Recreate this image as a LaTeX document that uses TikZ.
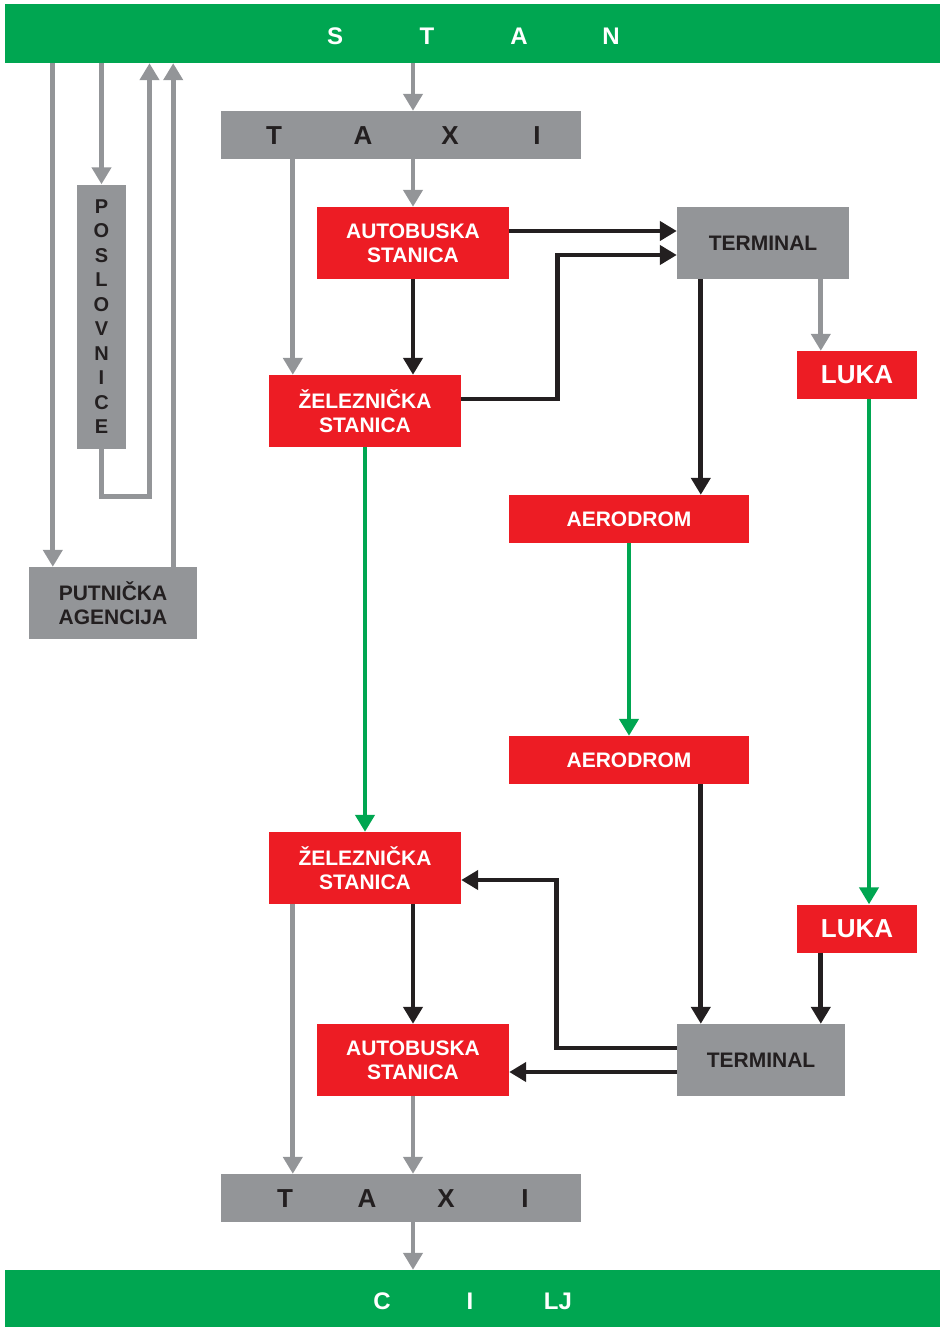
\documentclass[tikz,border=0pt]{standalone}
\usepackage{fontspec}
\setmainfont{Liberation Sans}
\usetikzlibrary{arrows.meta}
\definecolor{bargreen}{HTML}{00A651}
\definecolor{boxred}{HTML}{ED1C24}
\definecolor{boxgray}{HTML}{939598}
\definecolor{ink}{HTML}{231F20}
\tikzset{
  box/.style={rectangle, inner sep=0pt, align=center, font=\bfseries\fontsize{21}{24}\selectfont},
  redbox/.style={box, fill=boxred, text=white},
  graybox/.style={box, fill=boxgray, text=ink},
  bar/.style={rectangle, inner sep=0pt, fill=bargreen, minimum width=935pt, minimum height=59pt},
  bartext/.style={inner sep=0pt, text=white, font=\bfseries\fontsize{24}{24}\selectfont},
  conn/.style={line width=4.8pt, -{Triangle[length=17pt,width=19pt]}},
  garrow/.style={conn, draw=boxgray},
  barrow/.style={conn, draw=ink},
  grarrow/.style={conn, draw=bargreen}
}
\newcommand{\spaced}[2]{\makebox[#1pt]{#2}}
\begin{document}
\begin{tikzpicture}[x=1pt,y=-1pt]
\useasboundingbox (0,0) rectangle (940,1327);

% start and goal bars
\node[bar] (stan) at (472.5,33.5) {};
\node[bartext] (stanlabel) at (473,36) {\spaced{92}{S}\spaced{92}{T}\spaced{92}{A}\spaced{92}{N}};
\node[bar, minimum height=57pt] (cilj) at (472.5,1298.5) {};
\node[bartext] (ciljlabel) at (470,1301) {\spaced{88}{C}\spaced{88}{I}\spaced{88}{LJ}};

% taxi rows
\node[graybox, minimum width=360pt, minimum height=48pt] (taxiA) at (401,135) {};
\node[text=ink, inner sep=0pt, font=\bfseries\fontsize{26}{26}\selectfont] (taxiAlabel) at (405,136)
  {\spaced{90}{T}\spaced{88}{A}\spaced{86}{X}\spaced{88}{I}};
\node[graybox, minimum width=360pt, minimum height=48pt] (taxiB) at (401,1198) {};
\node[text=ink, inner sep=0pt, font=\bfseries\fontsize{26}{26}\selectfont] (taxiBlabel) at (404,1199)
  {\spaced{84}{T}\spaced{80}{A}\spaced{78}{X}\spaced{80}{I}};

% left column
\node[graybox, minimum width=49pt, minimum height=264pt, font=\bfseries\fontsize{20}{24.5}\selectfont] (posl) at (101.5,316.5)
  {P\\O\\S\\L\\O\\V\\N\\I\\C\\E};
\node[graybox, minimum width=168pt, minimum height=72pt] (put) at (113,603) {PUTNIČKA\\AGENCIJA};

% departure side
\node[redbox, minimum width=192pt, minimum height=72pt] (autA) at (413,243) {AUTOBUSKA\\STANICA};
\node[redbox, minimum width=192pt, minimum height=72pt] (zelA) at (365,411) {ŽELEZNIČKA\\STANICA};
\node[graybox, minimum width=172pt, minimum height=72pt] (termA) at (763,243) {TERMINAL};
\node[redbox, minimum width=120pt, minimum height=48pt, font=\bfseries\fontsize{26}{26}\selectfont] (lukaA) at (857,375) {LUKA};
\node[redbox, minimum width=240pt, minimum height=48pt] (aeroA) at (629,519) {AERODROM};

% arrival side
\node[redbox, minimum width=240pt, minimum height=48pt] (aeroB) at (629,760) {AERODROM};
\node[redbox, minimum width=192pt, minimum height=72pt] (zelB) at (365,868) {ŽELEZNIČKA\\STANICA};
\node[redbox, minimum width=120pt, minimum height=48pt, font=\bfseries\fontsize{26}{26}\selectfont] (lukaB) at (857,928.5) {LUKA};
\node[graybox, minimum width=168pt, minimum height=72pt] (termB) at (761,1060) {TERMINAL};
\node[redbox, minimum width=192pt, minimum height=72pt] (autB) at (413,1060) {AUTOBUSKA\\STANICA};

% gray connectors, top
\draw[garrow] (stan.south -| autA) -- (autA |- taxiA.north);
\draw[garrow] (autA |- taxiA.south) -- (autA.north);
\draw[garrow] ([xshift=24pt]zelA.north west |- taxiA.south) -- ([xshift=24pt]zelA.north west);
\draw[garrow] (stan.south -| posl) -- (posl.north);
\draw[garrow] ([xshift=24pt]put.north west |- stan.south) -- ([xshift=24pt]put.north west);
\draw[garrow] ([xshift=-24pt]put.north east) -- ([xshift=-24pt]put.north east |- stan.south);
\draw[garrow] (posl.south) -- ++(0,48) -| ([xshift=48pt]posl.south |- stan.south);
\draw[garrow] ([xshift=24pt]lukaA.north west |- termA.south) -- ([xshift=24pt]lukaA.north west);

% black connectors, departure
\draw[barrow] ([yshift=12pt]autA.east) -- ([yshift=12pt]termA.west);
\draw[barrow] ([yshift=12pt]zelA.east) -- ++(96,0) |- ([yshift=-12pt]termA.west);
\draw[barrow] (autA.south) -- (autA.south |- zelA.north);
\draw[barrow] ([xshift=24pt]termA.south west) -- ([xshift=24pt]termA.south west |- aeroA.north);

% green connectors, main travel
\draw[grarrow] (zelA.south) -- (zelB.north);
\draw[grarrow] (aeroA.south) -- (aeroB.north);
\draw[grarrow] ([xshift=12pt]lukaA.south) -- ([xshift=12pt]lukaB.north);

% black connectors, arrival
\draw[barrow] ([xshift=24pt]termB.north west |- aeroB.south) -- ([xshift=24pt]termB.north west);
\draw[barrow] ([xshift=24pt]lukaB.south west) -- ([xshift=24pt]lukaB.south west |- termB.north);
\draw[barrow] ([yshift=12pt]termB.west) -- ++(-120,0) |- ([yshift=-12pt]zelB.east);
\draw[barrow] ([yshift=-12pt]termB.west) -- ([yshift=-12pt]autB.east);
\draw[barrow] (autB.north |- zelB.south) -- (autB.north);

% gray connectors, bottom
\draw[garrow] ([xshift=24pt]zelB.south west) -- ([xshift=24pt]zelB.south west |- taxiB.north);
\draw[garrow] (autB.south) -- (autB.south |- taxiB.north);
\draw[garrow] (autB |- taxiB.south) -- (autB |- cilj.north);
\end{tikzpicture}
\end{document}
